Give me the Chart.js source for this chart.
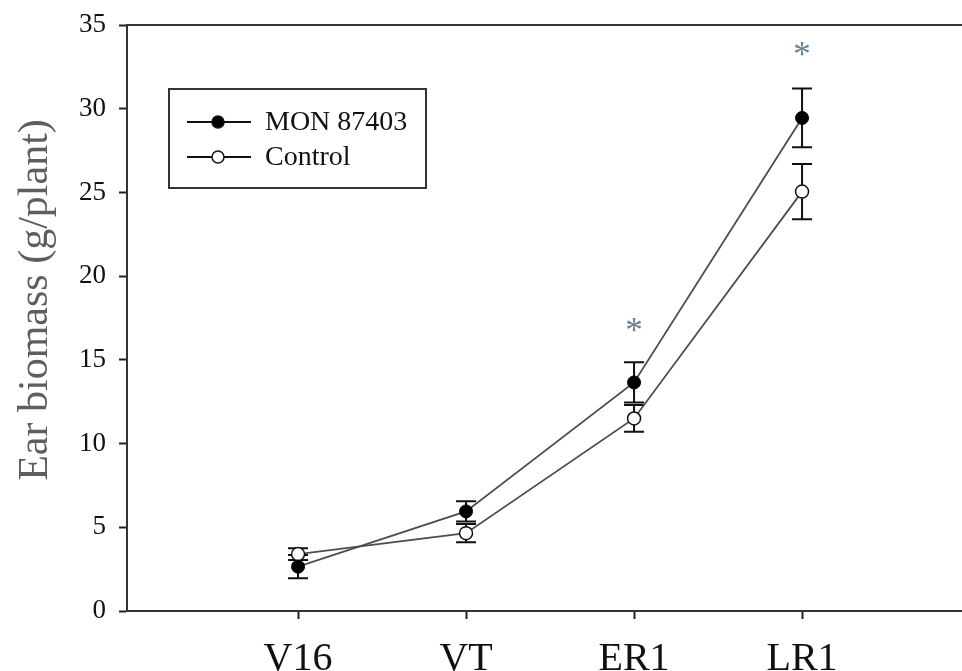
<!DOCTYPE html>
<html>
<head>
<meta charset="utf-8">
<title>Ear biomass</title>
<script src="https://cdn.jsdelivr.net/npm/chart.js@4.4.1/dist/chart.umd.min.js"></script>
<style>
  html, body { margin: 0; padding: 0; background: #fff; overflow: hidden; }
  #wrap { width: 962px; height: 671px; }
</style>
</head>
<body>
<div id="wrap"><canvas id="earChart"></canvas></div>
<script>
/* ---------- data ---------- */
const stages = ['V16', 'VT', 'ER1', 'LR1'];
const stageIdx = [0, 1, 2, 3];
const monMean = [2.65, 5.95, 13.65, 29.45];
const monErr = [0.7, 0.6, 1.2, 1.75];
const ctrlMean = [3.4, 4.65, 11.5, 25.05];
const ctrlErr = [0.35, 0.55, 0.8, 1.65];
const starAt = [null, null, 17.0, 33.5];   // significance marks
const yTicks = [0, 5, 10, 15, 20, 25, 30, 35];

const SERIF = '"Liberation Serif", "Times New Roman", serif';
const INK = '#111';

// error bars, drawn under lines and markers
const errorBars = {
  id: 'errorBars',
  beforeDatasetsDraw(chart) {
    const { ctx, scales: { x, y } } = chart;
    ctx.save();
    ctx.strokeStyle = INK;
    ctx.lineWidth = 2;
    chart.data.datasets.forEach(ds => {
      ds.data.forEach((p, i) => {
        const px = x.getPixelForValue(p.x);
        const top = y.getPixelForValue(p.y + ds.err[i]);
        const bot = y.getPixelForValue(p.y - ds.err[i]);
        ctx.beginPath();
        ctx.moveTo(px, top); ctx.lineTo(px, bot);
        ctx.moveTo(px - 10, top); ctx.lineTo(px + 10, top);
        ctx.moveTo(px - 10, bot); ctx.lineTo(px + 10, bot);
        ctx.stroke();
      });
    });
    ctx.restore();
  }
};

// top frame line, asterisks, y title, legend box
const decorations = {
  id: 'decorations',
  afterDraw(chart) {
    const { ctx, chartArea: a, scales: { x, y } } = chart;
    ctx.save();

    // top border
    ctx.strokeStyle = '#333';
    ctx.lineWidth = 2;
    ctx.beginPath();
    ctx.moveTo(a.left, a.top); ctx.lineTo(a.right, a.top);
    ctx.stroke();

    // asterisks
    ctx.fillStyle = '#6b7f94';
    ctx.font = '35px ' + SERIF;
    ctx.textAlign = 'center';
    ctx.textBaseline = 'alphabetic';
    starAt.forEach((v, i) => {
      if (v === null) return;
      ctx.fillText('*', x.getPixelForValue(stageIdx[i]), y.getPixelForValue(v) + 16);
    });

    // y axis title
    ctx.save();
    ctx.translate(36, (a.top + a.bottom) / 2 - 18);
    ctx.rotate(-Math.PI / 2);
    ctx.fillStyle = '#5e5e5e';
    ctx.font = '42px ' + SERIF;
    ctx.textAlign = 'center';
    ctx.textBaseline = 'middle';
    ctx.fillText('Ear biomass (g/plant)', 0, 0);
    ctx.restore();

    // legend
    const lx = a.left + 42, ly = a.top + 64;
    ctx.strokeStyle = '#333';
    ctx.lineWidth = 2;
    ctx.strokeRect(lx, ly, 257, 99);
    ctx.font = '28px ' + SERIF;
    ctx.textAlign = 'left';
    ctx.textBaseline = 'middle';
    chart.data.datasets.forEach((ds, i) => {
      const ry = ly + 33 + i * 35;
      ctx.strokeStyle = INK;
      ctx.lineWidth = 2;
      ctx.beginPath();
      ctx.moveTo(lx + 18, ry); ctx.lineTo(lx + 82, ry);
      ctx.stroke();
      ctx.beginPath();
      ctx.arc(lx + 49, ry, 6, 0, Math.PI * 2);
      ctx.fillStyle = ds.pointBackgroundColor;
      ctx.fill();
      ctx.lineWidth = 1.5;
      ctx.stroke();
      ctx.fillStyle = INK;
      ctx.fillText(ds.label, lx + 96, ry + 1);
    });
    ctx.restore();
  }
};

const toPoints = arr => arr.map((v, i) => ({ x: stageIdx[i], y: v }));

new Chart(document.getElementById('earChart'), {
  type: 'line',
  data: {
    datasets: [
      {
        label: 'MON 87403', data: toPoints(monMean), err: monErr,
        borderColor: '#4d4d4d', borderWidth: 1.8,
        pointBackgroundColor: '#000', pointBorderColor: '#000',
        pointRadius: 6.5, pointBorderWidth: 1, tension: 0
      },
      {
        label: 'Control', data: toPoints(ctrlMean), err: ctrlErr,
        borderColor: '#4d4d4d', borderWidth: 1.8,
        pointBackgroundColor: '#fff', pointBorderColor: '#111',
        pointRadius: 6.5, pointBorderWidth: 1.5, tension: 0
      }
    ]
  },
  options: {
    animation: false, responsive: true, maintainAspectRatio: false,
    devicePixelRatio: 1,
    layout: { autoPadding: false, padding: { top: 25, right: 0, left: 0, bottom: 0 } },
    plugins: { legend: { display: false }, tooltip: { enabled: false } },
    scales: {
      x: {
        type: 'linear', min: -1.018, max: 3.952,
        afterBuildTicks: s => { s.ticks = stageIdx.map(v => ({ value: v })); },
        afterFit: s => { s.height = 60; s.paddingLeft = 0; s.paddingRight = 0; },
        ticks: {
          callback: v => stages[v] ?? '',
          color: INK, font: { family: SERIF, size: 40 }, padding: 16,
          maxRotation: 0, autoSkip: false
        },
        grid: { drawOnChartArea: false, drawTicks: true, tickLength: 8, color: '#222', tickWidth: 2 },
        border: { display: true, color: '#333', width: 2 }
      },
      y: {
        min: 0, max: 35,
        afterBuildTicks: s => { s.ticks = yTicks.map(v => ({ value: v })); },
        afterFit: s => { s.width = 127; s.paddingTop = 0; s.paddingBottom = 0; },
        ticks: { color: INK, font: { family: SERIF, size: 27 }, padding: 13 },
        grid: { drawOnChartArea: false, drawTicks: true, tickLength: 8, color: '#222', tickWidth: 2 },
        border: { display: true, color: '#333', width: 2 }
      }
    }
  },
  plugins: [errorBars, decorations]
});
</script>
</body>
</html>
